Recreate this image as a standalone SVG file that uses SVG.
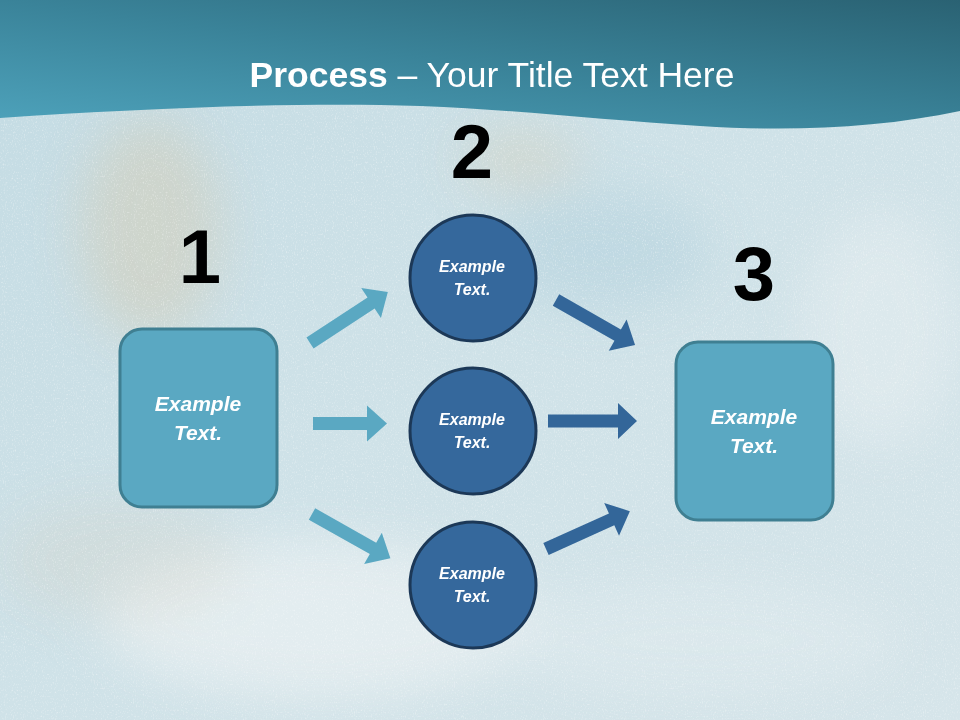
<svg xmlns="http://www.w3.org/2000/svg" width="960" height="720" viewBox="0 0 960 720">
  <defs>
    <linearGradient id="bg" x1="0" y1="0" x2="1" y2="1">
      <stop offset="0" stop-color="#c3dbe3"/>
      <stop offset="0.5" stop-color="#cfe2e8"/>
      <stop offset="1" stop-color="#d6e5ea"/>
    </linearGradient>
    <linearGradient id="hdr" x1="0" y1="1" x2="1" y2="0">
      <stop offset="0" stop-color="#4ea3bc"/>
      <stop offset="0.5" stop-color="#3a8399"/>
      <stop offset="1" stop-color="#2a6273"/>
    </linearGradient>
    <filter id="blur" x="-50%" y="-50%" width="200%" height="200%">
      <feGaussianBlur stdDeviation="25"/>
    </filter>
    <filter id="speck" x="0" y="0" width="100%" height="100%">
      <feTurbulence type="fractalNoise" baseFrequency="0.9 0.5" numOctaves="2" seed="3" result="n"/>
      <feColorMatrix in="n" type="matrix" values="0 0 0 0 1  0 0 0 0 1  0 0 0 0 1  0 0 0 3 -1.6"/>
    </filter>
    <style>
      .num { font-family: "Liberation Sans", Arial, sans-serif; font-weight: bold; font-size: 76px; fill: #000; text-anchor: middle; }
      .box { fill: #5aa8c2; stroke: #3f7f92; stroke-width: 3; }
      .circ { fill: #35689c; stroke: #1c3857; stroke-width: 3; }
      .bt { font-family: "Liberation Sans", Arial, sans-serif; font-weight: bold; font-style: italic; font-size: 21px; fill: #fff; text-anchor: middle; }
      .ct { font-family: "Liberation Sans", Arial, sans-serif; font-weight: bold; font-style: italic; font-size: 16px; fill: #fff; text-anchor: middle; }
      .al { fill: #5aa8c2; }
      .ar { fill: #336699; }
      .title { font-family: "Liberation Sans", Arial, sans-serif; font-size: 35.5px; fill: #fff; text-anchor: middle; }
    </style>
  </defs>

  <!-- background -->
  <rect x="0" y="0" width="960" height="720" fill="url(#bg)"/>
  <g filter="url(#blur)" opacity="0.8">
    <ellipse cx="150" cy="230" rx="70" ry="110" fill="#d8c8a8" opacity="0.5"/>
    <ellipse cx="520" cy="160" rx="60" ry="30" fill="#d9c9ab" opacity="0.45"/>
    <ellipse cx="320" cy="620" rx="220" ry="80" fill="#eef2f4" opacity="0.8"/>
    <ellipse cx="120" cy="560" rx="120" ry="60" fill="#dccdb2" opacity="0.25"/>
    <ellipse cx="880" cy="330" rx="80" ry="120" fill="#e6eef1" opacity="0.7"/>
    <ellipse cx="700" cy="640" rx="200" ry="60" fill="#e2ecf0" opacity="0.6"/>
    <ellipse cx="600" cy="250" rx="110" ry="60" fill="#b5d3de" opacity="0.7"/>
  </g>
  <rect x="0" y="0" width="960" height="720" filter="url(#speck)" opacity="0.35"/>

  <!-- header -->
  <path d="M0,0 H960 V111 C880,128 790,132 700,126 C600,120 520,110 420,106 C300,102 150,108 0,118 Z" fill="url(#hdr)"/>
  <text class="title" x="492" y="87"><tspan font-weight="bold">Process</tspan> – Your Title Text Here</text>

  <!-- connectors -->
  <g id="connectors">
    <polygon class="al" points="0,-6.5 73,-6.5 73,-18 93,0 73,18 73,6.5 0,6.5" transform="translate(310,343) rotate(-33.2)"/>
    <polygon class="al" points="0,-6.5 54,-6.5 54,-18 74,0 54,18 54,6.5 0,6.5" transform="translate(313,423.5)"/>
    <polygon class="al" points="0,-6.5 70,-6.5 70,-18 90,0 70,18 70,6.5 0,6.5" transform="translate(312,514) rotate(29.4)"/>
    <polygon class="ar" points="0,-6.5 71,-6.5 71,-18 91,0 71,18 71,6.5 0,6.5" transform="translate(556,300) rotate(29.7)"/>
    <polygon class="ar" points="0,-6.5 70,-6.5 70,-18 89,0 70,18 70,6.5 0,6.5" transform="translate(548,421)"/>
    <polygon class="ar" points="0,-6.5 72,-6.5 72,-18 92,0 72,18 72,6.5 0,6.5" transform="translate(546,549) rotate(-24.3)"/>
  </g>

  <!-- labels -->
  <text class="num" x="200" y="283">1</text>
  <text class="num" x="472" y="178">2</text>
  <text class="num" x="754" y="300">3</text>

  <g id="node-left">
    <rect class="box" x="120" y="329" width="157" height="178" rx="22"/>
    <text class="bt" x="198" y="411">Example</text>
    <text class="bt" x="198" y="440">Text.</text>
  </g>

  <g id="node-top">
    <circle class="circ" cx="473" cy="278" r="63"/>
    <text class="ct" x="472" y="272">Example</text>
    <text class="ct" x="472" y="295">Text.</text>
  </g>
  <g id="node-mid">
    <circle class="circ" cx="473" cy="431" r="63"/>
    <text class="ct" x="472" y="425">Example</text>
    <text class="ct" x="472" y="448">Text.</text>
  </g>
  <g id="node-bottom">
    <circle class="circ" cx="473" cy="585" r="63"/>
    <text class="ct" x="472" y="579">Example</text>
    <text class="ct" x="472" y="602">Text.</text>
  </g>

  <g id="node-right">
    <rect class="box" x="676" y="342" width="157" height="178" rx="22"/>
    <text class="bt" x="754" y="424">Example</text>
    <text class="bt" x="754" y="453">Text.</text>
  </g>
</svg>
